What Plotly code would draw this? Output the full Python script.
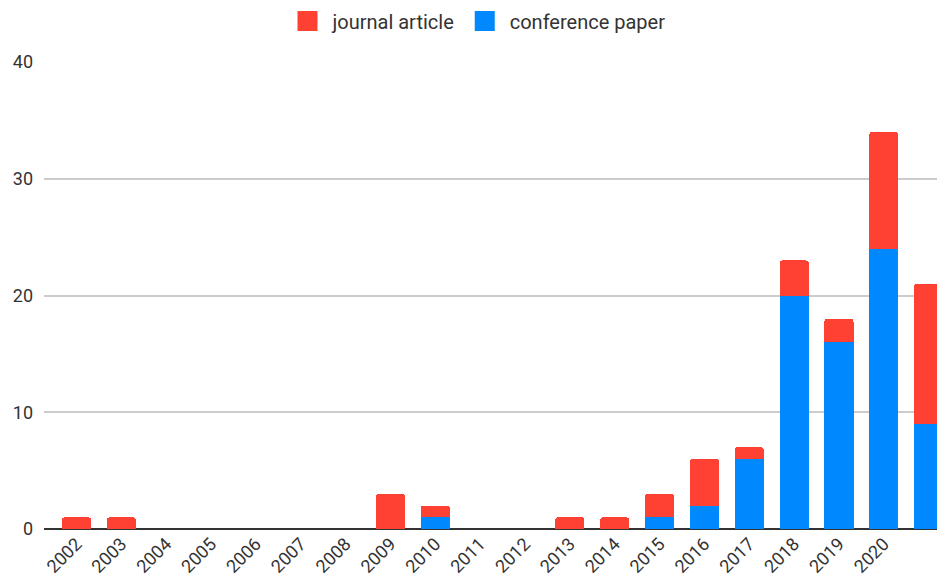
import plotly.graph_objects as go

years = [str(y) for y in range(2002, 2022)]
tick_labels = [str(y) for y in range(2002, 2021)]  # last bar has no visible label
conference = [0, 0, 0, 0, 0, 0, 0, 0, 1, 0, 0, 0, 0, 1, 2, 6, 20, 16, 24, 9]
journal = [1, 1, 0, 0, 0, 0, 0, 3, 1, 0, 0, 1, 1, 2, 4, 1, 3, 2, 10, 12]

RED = "#FF4133"
BLUE = "#0088FF"
TXT = "#333333"

W, H = 937, 577  # page body has an 8px margin in the 945x585 window

fig = go.Figure()
fig.add_trace(go.Bar(x=years, y=conference, name="conference paper",
                     marker=dict(color=BLUE, line=dict(width=0)), showlegend=False))
fig.add_trace(go.Bar(x=years, y=journal, name="journal article",
                     marker=dict(color=RED, line=dict(width=0)), showlegend=False))
# legend entries with larger square swatches
fig.add_trace(go.Scatter(x=[None], y=[None], mode="markers", name="journal article",
                         marker=dict(symbol="square", size=16, color=RED,
                                     line=dict(color=RED, width=4))))
fig.add_trace(go.Scatter(x=[None], y=[None], mode="markers", name="conference paper",
                         marker=dict(symbol="square", size=16, color=BLUE,
                                     line=dict(color=BLUE, width=4))))

fig.update_layout(
    width=W, height=H,
    margin=dict(l=36, r=0, t=54, b=56, autoexpand=False),
    paper_bgcolor="white", plot_bgcolor="white",
    barmode="stack", bargap=0.35, barcornerradius=3,
    font=dict(family="Roboto", size=18, color=TXT),
    legend=dict(orientation="h", x=0.5, xanchor="center", xref="container",
                y=1 - 13 / H, yanchor="middle", yref="container",
                font=dict(size=20, color=TXT), itemsizing="trace",
                itemwidth=40, traceorder="normal"),
    xaxis=dict(type="category", categoryorder="array", categoryarray=years,
               range=[-0.725, 19.365], tickangle=-45,
               tickmode="array", tickvals=tick_labels, ticktext=tick_labels,
               showgrid=False, showline=False, ticks="", fixedrange=True,
               automargin=False),
    yaxis=dict(range=[0, 40], tickvals=[0, 10, 20, 30, 40], showgrid=True,
               gridcolor="#CCCCCC", gridwidth=1.5, zeroline=True,
               zerolinecolor="#333333", zerolinewidth=2,
               ticks="", ticklabelstandoff=10, showline=False, automargin=False),
)

fig.write_html("out.html")
